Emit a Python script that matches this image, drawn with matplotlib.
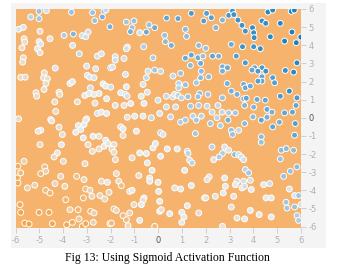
import numpy as np
import matplotlib.pyplot as plt
from matplotlib.colors import LinearSegmentedColormap, Normalize
from matplotlib.patches import Rectangle

# (x, y, value), grouped by region of the plot
top_left = [(-5.01, 5.87, 0.35), (-4.70, 5.91, 0.1), (-5.36, 5.56, 0.2), (-5.01, 5.47, 0.3), (-3.65, 5.82, 0.35),
            (-2.76, 5.80, 0.35), (-2.67, 5.36, 0.35), (-2.35, 5.56, 0.5), (-2.28, 5.89, 0.5), (-2.20, 5.95, 0.15),
            (-2.03, 5.02, 0.5), (-5.67, 4.99, 0.05), (-5.87, 4.88, 0.05), (-4.97, 4.77, -0.15), (-3.96, 4.55, 0.25),
            (-3.57, 4.62, 0.45), (-3.19, 4.53, 0.1), (-3.05, 4.47, 0.1), (-2.95, 4.73, 0.1), (-5.64, 4.36, -0.15),
            (-5.61, 4.18, -0.15), (-5.01, 4.20, 0.0), (-4.94, 4.07, 0.05), (-5.08, 3.81, 0.0), (-4.97, 3.59, -0.1),
            (-4.55, 4.36, -0.1), (-5.73, 3.86, -0.15), (-3.60, 3.99, 0.05), (-3.32, 3.53, 0.15), (-2.56, 3.40, 0.1),
            (-2.39, 3.53, 0.05), (-5.67, 3.31, -0.15), (-5.70, 3.07, -0.15), (-4.33, 2.74, 0.05), (-3.01, 2.85, 0.05),
            (-2.63, 2.70, 0.05), (-2.00, 2.76, 0.25), (-4.79, 2.48, -0.15), (-4.82, 2.21, -0.15), (-4.66, 2.15, -0.15),
            (-4.72, 1.89, -0.15), (-5.78, 2.23, -0.2), (-5.59, 2.24, -0.2), (-3.71, 1.89, 0.0), (-3.61, 1.99, 0.0),
            (-2.98, 2.34, 0.05), (-2.88, 2.24, 0.05), (-2.70, 2.21, 0.05), (-2.32, 1.87, 0.0), (-2.21, 1.75, 0.0),
            (-2.00, 1.69, 0.1), (-2.85, 1.65, 0.1), (-4.80, 1.56, -0.15), (-5.14, 1.38, -0.2), (-5.11, 1.19, -0.2),
            (-4.17, 1.41, -0.15), (-4.14, 1.29, -0.15), (-3.09, 1.23, 0.0), (-2.91, 1.34, 0.0), (-2.70, 1.29, 0.0),
            (-2.49, 1.34, 0.0), (-2.17, 1.05, 0.0), (-4.35, 0.88, -0.15), (-3.40, 0.88, -0.15), (-2.66, 0.81, -0.1),
            (-4.31, 0.35, -0.2), (-2.56, 0.24, 0.05), (-2.39, 0.31, 0.0), (-2.17, 0.24, 0.0), (-5.87, -0.06, -0.2),
            (-4.52, -0.10, -0.2), (-3.01, -0.06, -0.15)]

top_mid = [(-1.34, 5.28, 0.3), (-1.02, 5.34, 0.35), (-1.10, 4.97, 0.35), (-1.17, 4.75, 0.5), (-0.78, 4.69, 0.1),
           (-0.50, 4.73, 0.55), (-0.39, 5.13, 0.35), (-0.15, 4.97, 0.55), (0.35, 5.50, 0.6), (0.83, 5.47, 0.6),
           (1.39, 5.76, 0.7), (1.91, 5.34, 0.65), (0.27, 4.55, 0.35), (0.30, 4.20, 0.4), (0.55, 3.99, 0.5),
           (1.14, 4.88, 0.4), (1.19, 4.49, 0.4), (1.70, 3.99, 0.4), (-1.30, 3.90, 0.1), (-1.34, 3.81, 0.1),
           (-0.61, 3.92, 0.25), (-1.81, 3.37, 0.1), (-1.81, 3.18, 0.1), (-1.44, 3.27, 0.1), (-0.22, 3.31, 0.25),
           (-1.92, 2.80, 0.05), (1.14, 3.29, 0.55), (1.39, 3.46, 0.6), (1.67, 3.31, 0.55), (1.35, 2.89, 0.4),
           (1.78, 3.00, 0.55), (1.88, 3.40, 0.35), (-0.43, 2.57, 0.1), (-0.15, 2.63, 0.3), (0.10, 2.56, 0.15),
           (-1.38, 2.39, 0.05), (-0.50, 2.21, 0.15), (0.94, 2.45, 0.35), (0.62, 2.30, 0.15), (1.81, 2.57, 0.4),
           (1.78, 2.21, 0.4), (1.60, 1.93, 0.3), (-1.34, 1.71, 0.0), (-0.64, 1.84, 0.05), (0.86, 1.89, 0.2),
           (0.86, 1.65, 0.2), (1.14, 1.82, 0.35), (-1.58, 1.38, 0.0), (-1.38, 1.29, 0.1), (-1.31, 1.19, 0.1),
           (-0.46, 1.41, 0.05), (-0.71, 1.19, 0.0), (0.34, 1.19, 0.15), (0.62, 1.16, 0.15), (0.69, 1.29, 0.05),
           (0.83, 1.23, 0.2), (0.97, 1.10, 0.2), (1.25, 1.16, 0.35), (1.74, 1.34, 0.4), (1.67, 1.16, 0.35),
           (-1.16, 0.79, 0.0), (-1.44, 0.68, -0.1), (-1.81, 0.68, -0.1), (-0.60, 0.79, 0.0), (-0.01, 0.97, 0.1),
           (0.34, 0.60, 0.1), (0.73, 0.60, 0.1), (1.36, 0.64, 0.3), (1.70, 0.68, 0.25), (-1.30, 0.03, -0.1),
           (-0.99, 0.09, 0.0), (-0.64, 0.09, 0.0), (0.06, 0.24, 0.05), (-0.29, 0.0, 0.15), (0.52, 0.05, 0.15),
           (1.46, 0.09, 0.2), (1.81, 0.09, 0.2)]

top_right = [(2.03, 5.76, 0.65), (2.23, 5.52, 0.65), (2.70, 5.39, 0.45), (2.96, 5.65, 0.7), (3.12, 5.89, 0.75),
             (3.18, 5.69, 0.75), (3.35, 5.39, 0.75), (3.52, 5.10, 0.75), (3.66, 4.78, 0.75), (2.42, 4.97, 0.45),
             (3.96, 4.97, 0.8), (4.01, 4.69, 0.8), (4.03, 4.42, 0.8), (4.36, 5.34, 0.8), (4.52, 5.21, 0.8),
             (4.61, 5.83, 0.85), (4.81, 5.94, 0.85), (5.13, 5.21, 0.85), (5.59, 5.87, 0.9), (5.72, 5.94, 0.9),
             (5.62, 4.73, 0.9), (5.99, 4.45, 0.95), (4.71, 4.47, 0.85), (5.31, 4.23, 0.9), (5.80, 4.14, 0.9),
             (2.00, 3.83, 0.35), (3.07, 4.05, 0.55), (3.54, 3.92, 0.75), (4.01, 3.92, 0.75), (4.29, 3.81, 0.8),
             (2.28, 3.40, 0.6), (2.54, 3.40, 0.5), (3.28, 3.40, 0.65), (3.66, 3.03, 0.7), (2.70, 2.81, 0.5),
             (2.91, 2.76, 0.55), (2.70, 2.57, 0.5), (4.05, 2.76, 0.6), (3.94, 2.63, 0.6), (4.36, 2.76, 0.7),
             (4.52, 2.57, 0.75), (4.19, 2.57, 0.7), (5.34, 2.61, 0.8), (5.83, 3.03, 0.85), (5.69, 2.52, 0.85),
             (2.12, 2.26, 0.4), (4.36, 2.26, 0.6), (4.36, 2.02, 0.6), (4.81, 2.21, 0.65), (4.89, 1.93, 0.65),
             (4.19, 2.02, 0.65), (2.90, 1.89, 0.5), (3.59, 1.84, 0.55), (3.66, 1.65, 0.55), (3.87, 1.75, 0.55),
             (5.51, 1.47, 0.8), (5.13, 1.19, 0.7), (3.07, 1.47, 0.5), (3.31, 1.29, 0.5), (3.59, 1.05, 0.5),
             (3.70, 1.08, 0.6), (4.15, 1.01, 0.55), (4.50, 0.97, 0.6), (5.83, 1.10, 0.7), (2.70, 1.10, 0.35),
             (2.09, 1.29, 0.3), (2.05, 0.64, 0.15), (2.51, 0.68, 0.15), (3.63, 0.68, 0.45), (4.01, 0.59, 0.45),
             (4.57, 0.46, 0.55), (5.31, 0.27, 0.6), (5.64, 0.31, 0.6), (5.79, 0.68, 0.6), (2.26, 0.31, 0.15),
             (2.68, 0.31, 0.15), (2.96, 0.27, 0.25), (3.24, 0.27, 0.3), (2.47, 0.0, 0.2), (3.98, 0.05, 0.4),
             (4.57, 0.03, 0.5), (4.78, 0.31, 0.5)]

bottom_left = [(-4.94, -0.69, -0.05), (-5.05, -0.74, -0.05), (-4.48, -0.17, -0.05), (-4.17, -0.52, -0.15),
               (-4.03, -0.92, -0.15), (-4.97, -1.48, -0.2), (-3.36, -0.43, 0.0), (-3.12, -0.37, 0.0),
               (-3.05, -0.13, 0.0), (-3.26, -0.65, 0.0), (-3.47, -0.80, 0.0), (-3.15, -1.11, 0.0),
               (-2.74, -1.02, 0.0), (-2.49, -1.02, -0.1), (-2.21, -1.24, 0.0), (-2.95, -1.48, -0.15),
               (-2.77, -1.85, -0.15), (-2.49, -1.72, -0.15), (-2.28, -1.57, -0.05), (-2.11, -1.42, -0.05),
               (-4.24, -1.94, -0.05), (-4.38, -2.16, -0.2), (-3.99, -2.40, -0.2), (-4.07, -1.48, -0.05),
               (-3.08, -2.53, -0.2), (-5.64, -2.40, -0.3), (-5.90, -2.67, -0.7), (-5.78, -3.04, -0.55),
               (-5.92, -3.32, -0.7), (-5.90, -3.60, -0.7), (-4.77, -2.71, -0.5), (-4.73, -2.95, -0.3),
               (-4.94, -3.08, -0.55), (-4.10, -3.23, -0.25), (-3.43, -3.23, -0.5), (-3.12, -3.41, -0.25),
               (-5.50, -3.87, -0.3), (-5.19, -3.72, -0.3), (-4.73, -4.00, -0.55), (-4.55, -4.15, -0.6),
               (-4.34, -3.63, -0.25), (-3.93, -3.78, -0.25), (-3.05, -3.93, -0.55), (-2.87, -4.00, -0.25),
               (-2.79, -4.33, -0.25), (-2.45, -4.29, -0.25), (-2.25, -4.48, -0.25), (-2.39, -3.50, -0.2),
               (-2.14, -3.56, -0.05), (-2.07, -4.11, -0.25), (-3.89, -4.52, -0.6), (-3.15, -4.42, -0.6),
               (-5.81, -4.79, -0.75), (-5.78, -5.22, -0.8), (-5.01, -5.22, -0.75), (-4.59, -5.22, -0.75),
               (-3.71, -5.07, -0.3), (-3.37, -5.07, -0.6), (-2.84, -5.16, -0.6), (-2.70, -5.25, -0.3),
               (-5.61, -5.81, -0.8), (-5.43, -5.86, -0.8), (-4.45, -5.84, -0.75), (-3.85, -5.90, -0.75),
               (-3.61, -5.77, -0.7), (-3.33, -5.58, -0.4), (-3.19, -5.99, -0.75), (-3.05, -5.84, -0.75),
               (-2.73, -5.77, -0.3), (-2.03, -5.84, -0.6)]

bottom_mid = [(0.94, -0.24, 0.25), (1.14, -0.13, 0.3), (1.60, -0.13, 0.3), (-1.58, -0.50, -0.15),
              (-1.48, -0.61, 0.0), (-1.48, -0.98, -0.15), (-0.92, -0.74, 0.0), (0.10, -0.83, 0.2),
              (0.20, -0.92, 0.05), (1.56, -0.87, 0.3), (-1.86, -1.48, -0.15), (-1.95, -1.72, -0.15),
              (-1.86, -1.90, -0.15), (-1.80, -2.31, -0.2), (-1.10, -2.21, -0.15), (-0.78, -1.94, 0.0),
              (-0.50, -1.97, 0.0), (-0.22, -1.66, 0.0), (-0.12, -1.42, 0.0), (0.10, -2.12, 0.0),
              (0.38, -1.72, 0.0), (0.80, -1.72, 0.0), (1.22, -1.85, 0.2), (1.25, -1.97, 0.2),
              (1.32, -2.34, 0.1), (1.42, -2.49, 0.2), (-0.46, -2.49, 0.0), (1.11, -2.90, 0.0),
              (-0.26, -2.90, 0.0), (-1.76, -3.08, -0.2), (-0.82, -3.19, -0.15), (-1.66, -3.50, -0.2),
              (-1.55, -3.74, -0.5), (-0.36, -3.32, 0.0), (-0.36, -3.50, 0.0), (-0.01, -3.56, 0.0),
              (-1.20, -4.06, -0.2), (-1.10, -4.00, 0.0), (0.02, -4.06, 0.0), (0.69, -3.87, -0.1),
              (0.94, -3.93, 0.0), (1.39, -3.74, 0.0), (-0.60, -4.42, 0.0), (-0.64, -4.55, -0.15),
              (-1.02, -4.79, -0.2), (-0.71, -4.79, 0.0), (0.06, -4.61, 0.0), (1.95, -4.42, 0.0),
              (-1.86, -5.03, -0.5), (-1.76, -5.11, -0.25), (-1.48, -5.40, -0.55), (-1.20, -5.25, -0.25),
              (-1.34, -5.62, -0.5), (-1.27, -5.95, -0.2), (-0.78, -5.66, 0.0), (0.06, -5.16, 0.0),
              (0.13, -5.07, -0.15), (0.48, -5.29, 0.0), (0.99, -5.22, 0.0), (1.08, -5.47, 0.0),
              (0.99, -5.77, 0.0), (1.22, -4.85, 0.0), (1.70, -5.25, -0.15), (-1.97, -5.81, -0.55),
              (-0.15, -5.99, -0.55)]

bottom_right = [(2.19, -0.32, 0.3), (2.61, -0.43, 0.25), (2.93, -0.13, 0.5), (3.63, -0.32, 0.4),
                (4.33, -0.13, 0.6), (4.81, -0.50, 0.6), (5.09, -0.24, 0.5), (5.76, -0.32, 0.65),
                (3.07, -0.69, 0.35), (3.12, -0.92, 0.35), (3.38, -0.69, 0.15), (4.33, -1.05, 0.4),
                (4.33, -1.35, 0.35), (5.73, -0.96, 0.6), (2.26, -1.61, 0.2), (2.79, -1.61, 0.05),
                (2.96, -1.79, 0.05), (2.70, -1.97, 0.25), (2.56, -2.16, 0.25), (2.33, -2.31, 0.05),
                (3.21, -2.03, 0.4), (3.38, -2.03, 0.1), (3.49, -2.16, 0.1), (3.59, -2.31, 0.1),
                (5.17, -1.79, 0.4), (5.38, -1.70, 0.4), (5.69, -1.79, 0.4), (5.13, -2.27, 0.35),
                (3.66, -2.86, 0.2), (3.80, -3.04, 0.3), (2.14, -3.26, -0.1), (2.05, -3.41, -0.1),
                (2.79, -3.32, 0.0), (3.31, -3.50, 0.1), (3.59, -3.50, 0.1), (3.87, -3.45, 0.1),
                (2.82, -3.78, 0.0), (3.24, -3.69, 0.0), (3.52, -3.87, 0.0), (3.63, -3.78, 0.1),
                (3.91, -3.96, 0.0), (4.43, -3.69, 0.0), (4.68, -3.63, 0.1), (5.27, -3.23, 0.35),
                (5.55, -2.95, 0.35), (5.83, -2.71, 0.4), (5.51, -3.93, 0.05), (5.73, -4.29, 0.05),
                (5.90, -4.29, 0.3), (2.73, -4.15, 0.0), (2.40, -4.33, -0.1), (2.00, -4.42, -0.1),
                (3.17, -4.33, -0.1), (4.53, -4.42, 0.0), (4.75, -4.42, 0.0), (5.37, -4.66, 0.3),
                (5.41, -4.98, 0.3), (5.73, -4.92, 0.35), (6.0, -4.79, 0.1), (3.07, -4.92, -0.1),
                (3.87, -5.11, 0.0), (3.31, -5.53, -0.1), (3.63, -5.58, 0.0), (4.24, -5.34, 0.0),
                (4.75, -5.47, 0.0), (5.83, -5.40, 0.25), (5.90, -5.66, 0.25), (2.70, -5.99, -0.1)]

ticks = list(range(-6, 7))
caption = "Fig 13: Using Sigmoid Activation Function"

pts = np.array(top_left + top_mid + top_right + bottom_left + bottom_mid + bottom_right)

cmap = LinearSegmentedColormap.from_list('pg', ['#f59322', '#e8eaeb', '#0877bd'])

W, H = 338, 272
fig = plt.figure(figsize=(W / 100, H / 100), dpi=100)
fig.patches.append(Rectangle((11 / W, 1 - 248 / H), 315 / W, 245 / H, transform=fig.transFigure,
                             facecolor='#f4f4f4', edgecolor='none', zorder=-1))

ax = fig.add_axes([15.5 / W, 1 - 228 / H, 285.5 / W, 219 / H])
ax.set_zorder(1)
ax.set_facecolor('#f5b36d')
ax.scatter(pts[:, 0], pts[:, 1], c=pts[:, 2], cmap=cmap, norm=Normalize(-1, 1),
           s=18, edgecolors='white', linewidths=0.7, zorder=3)
ax.set_xlim(-6, 6)
ax.set_ylim(-6.08, 6)

for s in ax.spines.values():
    s.set_visible(False)
ax.yaxis.tick_right()
ax.set_xticks(ticks)
ax.set_yticks(ticks)
ax.set_xticklabels([str(t) for t in ticks])
ax.set_yticklabels([str(t) for t in ticks])
ax.tick_params(axis='both', direction='out', length=3.5, width=0.6, color='#c8c8c8',
               labelsize=6, labelcolor='#b0b0b0', pad=2)
for t, lab in zip(ax.xaxis.get_major_ticks(), ticks):
    if lab == 0:
        t.tick1line.set_color('#666666')
        t.label1.set_color('#555555')
for t, lab in zip(ax.yaxis.get_major_ticks(), ticks):
    if lab == 0:
        t.tick2line.set_color('#666666')
        t.label2.set_color('#555555')

fig.text(167 / W, 1 - 258 / H, caption, ha='center', va='center',
         family='Liberation Serif', fontsize=8.5, color='black')

fig.savefig('out.png', dpi=100)
